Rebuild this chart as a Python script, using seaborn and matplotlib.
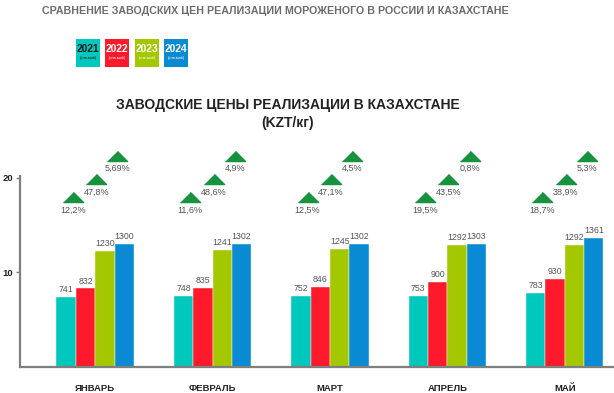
import pandas as pd
import matplotlib.pyplot as plt
import seaborn as sns
from matplotlib.patches import Rectangle

# Data (KZT/kg)
months = ['ЯНВАРЬ', 'ФЕВРАЛЬ', 'МАРТ', 'АПРЕЛЬ', 'МАЙ']
years = ['2021', '2022', '2023', '2024']
price_2021 = [741, 748, 752, 753, 783]
price_2022 = [832, 835, 846, 900, 930]
price_2023 = [1230, 1241, 1245, 1292, 1292]
price_2024 = [1300, 1302, 1302, 1303, 1361]

# year-on-year growth labels
growth_22 = ['12,2%', '11,6%', '12,5%', '19,5%', '18,7%']
growth_23 = ['47,8%', '48,6%', '47,1%', '43,5%', '38,9%']
growth_24 = ['5,69%', '4,9%', '4,5%', '0,8%', '5,3%']

colors = ['#00C8BC', '#FF1A2B', '#A4C800', '#0A8AD2']
tri_green = '#17933F'

sns.set_style('white')
plt.rcParams['font.family'] = ['Liberation Sans', 'DejaVu Sans']

all_prices = [price_2021, price_2022, price_2023, price_2024]
rows = []
for y, vals in zip(years, all_prices):
    for m, v in zip(months, vals):
        rows.append({'month': m, 'year': y, 'price': v})
df = pd.DataFrame(rows)
df['scaled'] = df['price'] / 100

fig = plt.figure(figsize=(6.14, 3.93), dpi=100)
ax = fig.add_axes([20 / 614, 26 / 393, 594 / 614, 227 / 393])

sns.barplot(data=df, x='month', y='scaled', hue='year', palette=colors,
            saturation=1, width=0.66, gap=0, ax=ax, legend=False,
            edgecolor='white', linewidth=0.3)

for cont, vals in zip(ax.containers, all_prices):
    ax.bar_label(cont, labels=[str(v) for v in vals], padding=2,
                 fontsize=6.3, color='#555555')

# growth triangles + labels
tri = [(-1, -0.5), (1, -0.5), (0, 0.5)]
levels = [(18.0, 16.6, -0.19, growth_22),
          (19.9, 18.5, 0.01, growth_23),
          (22.3, 21.0, 0.19, growth_24)]
for tri_y, txt_y, dx, labels in levels:
    for i, lab in enumerate(labels):
        ax.plot(i + dx, tri_y, marker=tri, markersize=14.5, color=tri_green,
                linestyle='none', clip_on=False)
        ax.text(i + dx, txt_y, lab, ha='center', va='center', fontsize=6.5,
                color='#555555')

ax.set_xlim(-0.64, 4.42)
ax.set_ylim(0, 24)
ax.set_yticks([10, 20])
ax.set_xlabel('')
ax.set_ylabel('')
ax.tick_params(axis='x', length=0, pad=12, labelsize=6.8, labelcolor='#222222')
ax.tick_params(axis='y', length=3, width=1, color='#7f7f7f', pad=2,
               labelsize=6.8, labelcolor='#222222', left=True)
for lab in ax.get_xticklabels() + ax.get_yticklabels():
    lab.set_fontweight('bold')

sns.despine(ax=ax, top=True, right=True)
ax.spines['left'].set_bounds(0, 20.2)
for s in ['left', 'bottom']:
    ax.spines[s].set_color('#7f7f7f')
    ax.spines[s].set_linewidth(1.6)

# titles
fig.text(275 / 614, 1 - 11 / 393,
         'СРАВНЕНИЕ ЗАВОДСКИХ ЦЕН РЕАЛИЗАЦИИ МОРОЖЕНОГО В РОССИИ И КАЗАХСТАНЕ',
         ha='center', va='center', fontsize=7.7, fontweight='bold', color='#6b6b6b')
fig.text(288 / 614, 1 - 105 / 393, 'ЗАВОДСКИЕ ЦЕНЫ РЕАЛИЗАЦИИ В КАЗАХСТАНЕ',
         ha='center', va='center', fontsize=10, fontweight='bold', color='#222222')
fig.text(288 / 614, 1 - 123 / 393, '(KZT/кг)',
         ha='center', va='center', fontsize=10, fontweight='bold', color='#222222')

# legend boxes
box_x = [76, 105, 135, 164]
text_colors = ['#1a1a1a', 'white', 'white', 'white']
for bx, yr, c, tc in zip(box_x, years, colors, text_colors):
    fig.patches.append(Rectangle((bx / 614, 1 - 67 / 393), 24 / 614, 28 / 393,
                                 transform=fig.transFigure, facecolor=c,
                                 edgecolor='none'))
    fig.text((bx + 12) / 614, 1 - 49 / 393, yr, ha='center', va='center',
             fontsize=7.4, fontweight='bold', color=tc)
    fig.text((bx + 12) / 614, 1 - 58 / 393, '(янв-май)', ha='center', va='center',
             fontsize=2.8, color=tc)

fig.savefig('out.png', dpi=100)
